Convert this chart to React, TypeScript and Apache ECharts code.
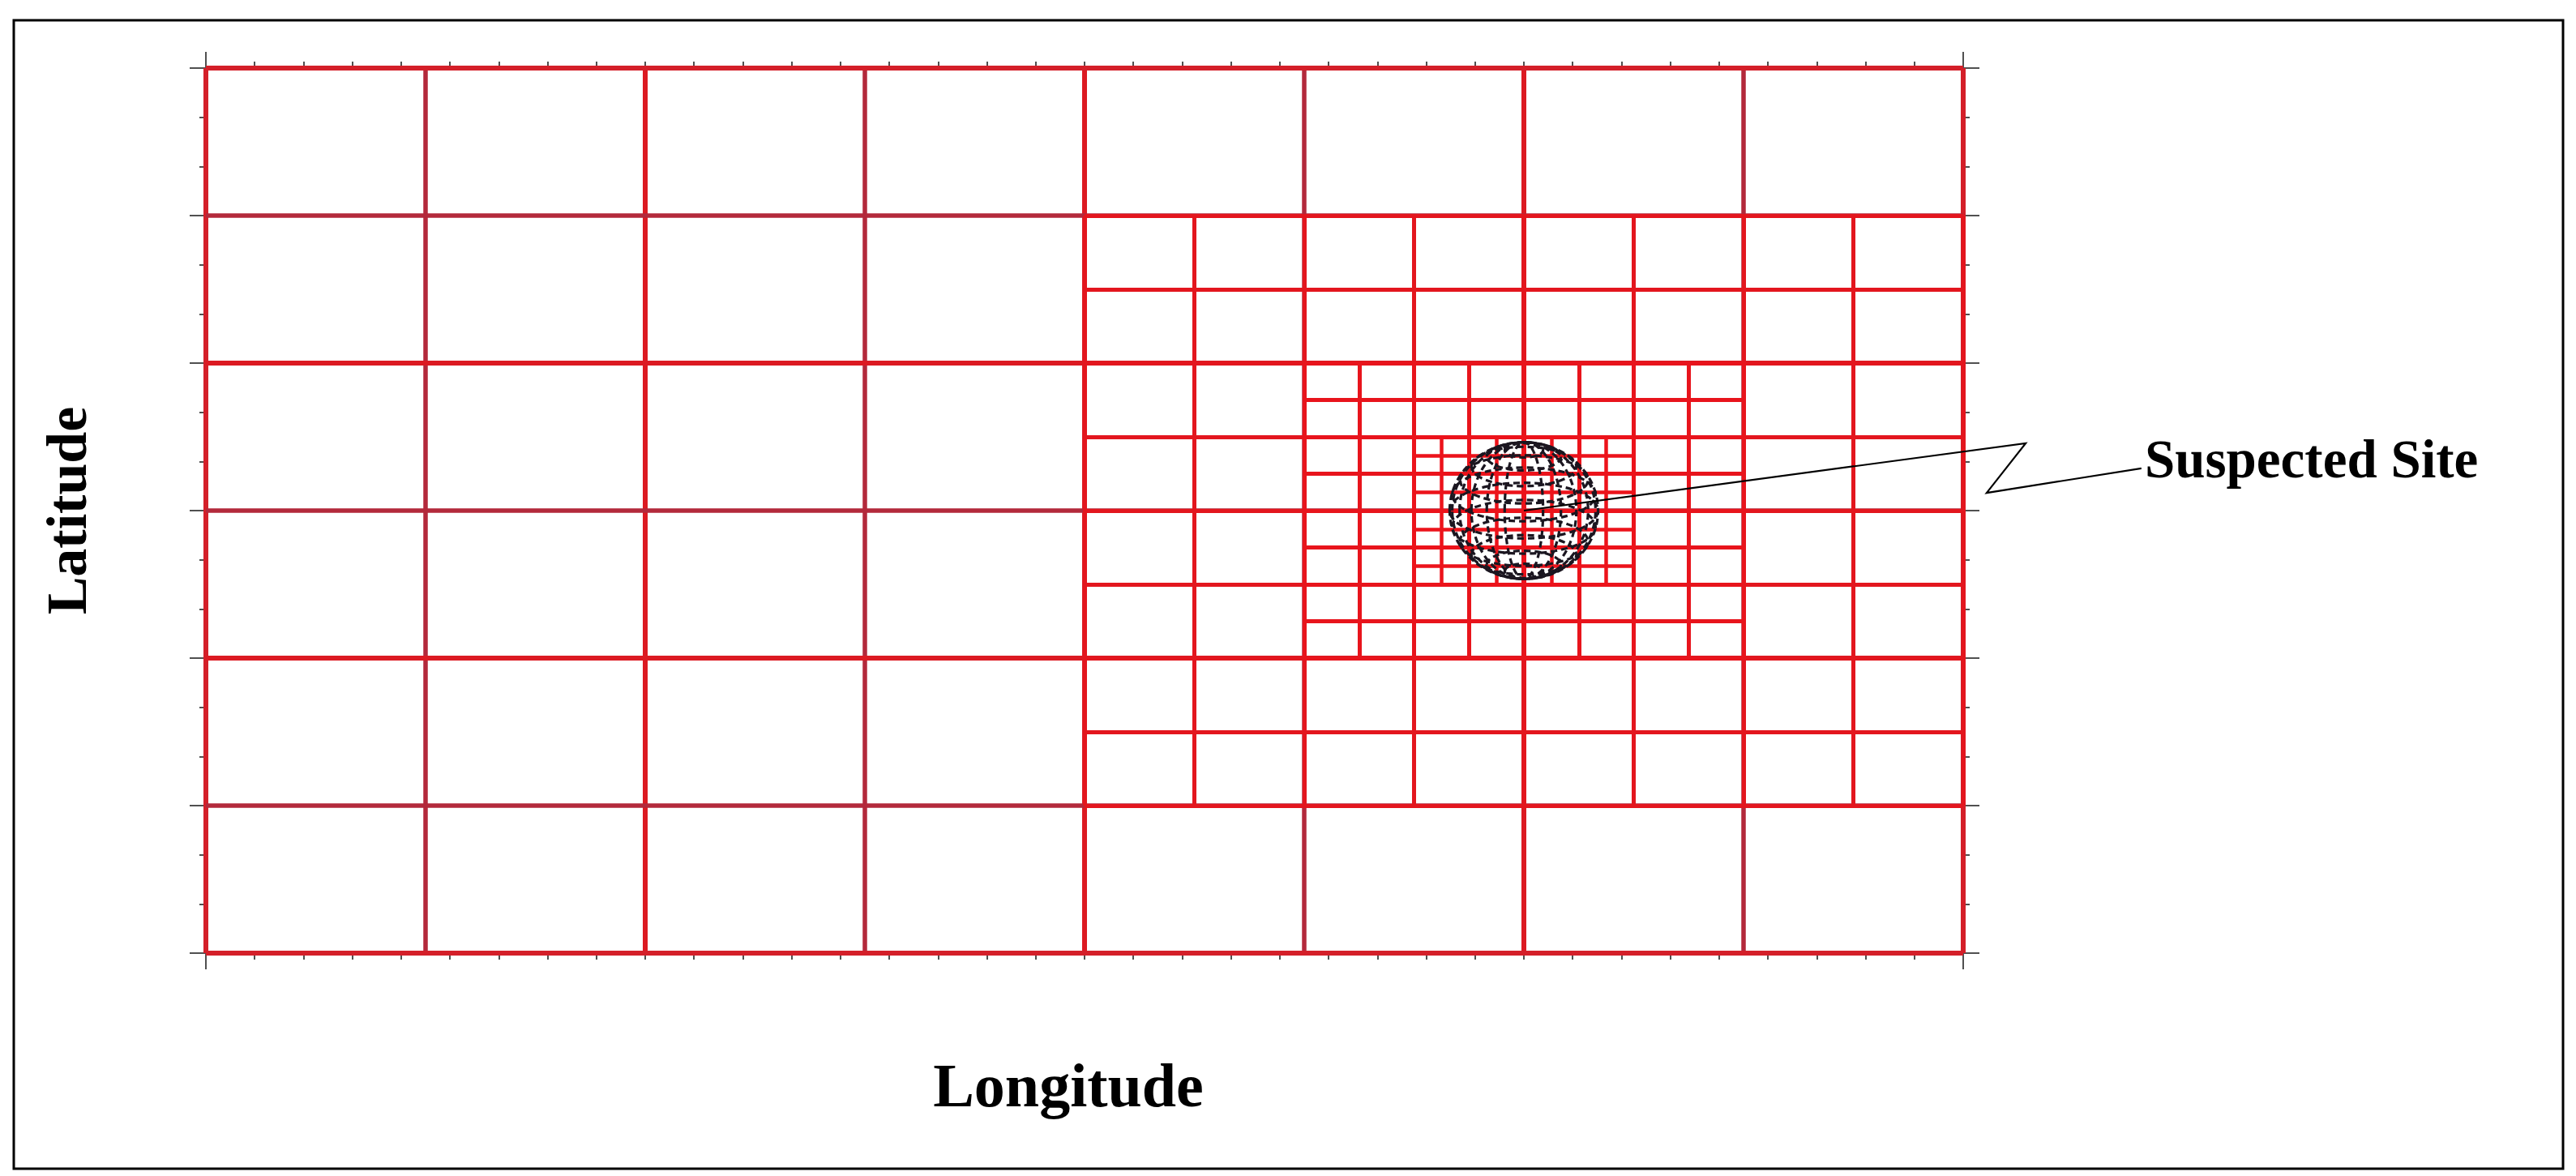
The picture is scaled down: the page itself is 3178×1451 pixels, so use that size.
import React, { useEffect, useRef } from "react";
import * as echarts from "echarts";

// Nested refinement levels of the grid (degrees)
const level1Lons = [-180, -135, -90, -45, 0, 45, 90, 135, 180];
const level1Lats = [-90, -60, -30, 0, 30, 60, 90];
const level2Lons = [0, 22.5, 45, 67.5, 90, 112.5, 135, 157.5, 180];
const level2Lats = [-60, -45, -30, -15, 0, 15, 30, 45, 60];
const level3Lons = [45, 56.25, 67.5, 78.75, 90, 101.25, 112.5, 123.75, 135];
const level3Lats = [-30, -22.5, -15, -7.5, 0, 7.5, 15, 22.5, 30];
const level4Lons = [67.5, 73.125, 78.75, 84.375, 90, 95.625, 101.25, 106.875, 112.5];
const level4Lats = [-15, -11.25, -7.5, -3.75, 0, 3.75, 7.5, 11.25, 15];

// Suspected site and its wireframe globe
const siteLon = 90;
const siteLat = 0;
const globeRadiusDeg = [15.2, 13.9];
const meridianAngles = [90, 75, 60, 45, 30, 15];
const parallelAngles = [-75, -60, -45, -30, -15, 0, 15, 30, 45, 60, 75];

// Leader line from site to label (degrees, extends beyond plot)
const pointerLons = [90, 192.8, 184.8, 216.5];
const pointerLats = [0, 13.7, 3.6, 8.6];

const siteLabel = "Suspected Site";
const xTitle = "Longitude";
const yTitle = "Latitude";

function segments(lons: number[], lats: number[], styleOf?: (isLon: boolean, i: number) => any) {
  const out: any[] = [];
  lons.forEach((x, i) => {
    const item: any = { coords: [[x, lats[0]], [x, lats[lats.length - 1]]] };
    if (styleOf) item.lineStyle = styleOf(true, i);
    out.push(item);
  });
  lats.forEach((y, i) => {
    const item: any = { coords: [[lons[0], y], [lons[lons.length - 1], y]] };
    if (styleOf) item.lineStyle = styleOf(false, i);
    out.push(item);
  });
  return out;
}

export default function App() {
  const ref = useRef<HTMLDivElement>(null);
  useEffect(() => {
    if (!ref.current) return;
    const chart = echarts.init(ref.current, null, { renderer: "svg" });
    const tickStyle = { color: "#505050", width: 2 };
    const xAxisBase = {
      type: "value",
      min: -180,
      max: 180,
      interval: 360,
      axisLine: { show: false, onZero: false },
      axisLabel: { show: false },
      splitLine: { show: false },
      axisTick: { show: true, length: 20, lineStyle: tickStyle },
      minorTick: { show: true, splitNumber: 36, length: 8, lineStyle: tickStyle },
    };
    const yAxisBase = {
      type: "value",
      min: -90,
      max: 90,
      interval: 30,
      axisLine: { show: false, onZero: false },
      axisLabel: { show: false },
      splitLine: { show: false },
      axisTick: { show: true, length: 20, lineStyle: tickStyle },
      minorTick: { show: true, splitNumber: 3, length: 8, lineStyle: tickStyle },
    };
    const lineSeries = (data: any[], color: string, width: number, z: number) => ({
      type: "lines",
      coordinateSystem: "cartesian2d",
      xAxisIndex: 0,
      yAxisIndex: 0,
      silent: true,
      z,
      data,
      lineStyle: { color, width, opacity: 1, curveness: 0 },
    });
    const level1Style = (isLon: boolean, i: number) => {
      const n = isLon ? level1Lons.length : level1Lats.length;
      const edge = i === 0 || i === n - 1;
      const odd = i % 2 === 1;
      return {
        color: edge ? "#d41f29" : odd ? "#b3293b" : "#dc1a22",
        width: odd ? 5.5 : 6,
        opacity: 1,
      };
    };
    const option: any = {
      animation: false,
      backgroundColor: "#ffffff",
      grid: { left: 254, top: 84, width: 2168, height: 1092, containLabel: false },
      xAxis: [
        { ...xAxisBase, position: "bottom" },
        { ...xAxisBase, position: "top" },
      ],
      yAxis: [
        { ...yAxisBase, position: "left" },
        { ...yAxisBase, position: "right" },
      ],
      series: [
        lineSeries(segments(level1Lons, level1Lats, level1Style), "#d4212b", 6, 2),
        lineSeries(segments(level2Lons, level2Lats), "#e3161e", 5, 3),
        lineSeries(segments(level3Lons, level3Lats), "#e8141c", 5, 4),
        lineSeries(segments(level4Lons, level4Lats), "#ec131b", 4.5, 5),
        {
          type: "custom",
          coordinateSystem: "cartesian2d",
          clip: false,
          silent: true,
          z: 10,
          data: [[siteLon, siteLat]],
          renderItem: (params: any, api: any) => {
            const c = api.coord([api.value(0), api.value(1)]);
            const s = api.size([globeRadiusDeg[0], globeRadiusDeg[1]]);
            const rx = s[0];
            const ry = s[1];
            const tilt = (24 * Math.PI) / 180;
            const style = { fill: "transparent", stroke: "#1b1620", lineWidth: 3.2, lineDash: [8, 5] };
            const children: any[] = [];
            meridianAngles.forEach((a) => {
              children.push({
                type: "ellipse",
                shape: { cx: c[0], cy: c[1], rx: rx * Math.sin((a * Math.PI) / 180), ry },
                style,
              });
            });
            parallelAngles.forEach((p) => {
              const r = (p * Math.PI) / 180;
              children.push({
                type: "ellipse",
                shape: {
                  cx: c[0],
                  cy: c[1] - ry * Math.sin(r) * Math.cos(tilt),
                  rx: rx * Math.cos(r),
                  ry: ry * Math.cos(r) * Math.sin(tilt),
                },
                style,
              });
            });
            return { type: "group", children };
          },
        },
        {
          type: "custom",
          coordinateSystem: "cartesian2d",
          clip: false,
          silent: true,
          z: 11,
          data: [[siteLon, siteLat]],
          renderItem: (params: any, api: any) => {
            const points = pointerLons.map((lon, i) => api.coord([lon, pointerLats[i]]));
            return {
              type: "polyline",
              shape: { points },
              style: { fill: null, stroke: "#000000", lineWidth: 2.2 },
            };
          },
        },
      ],
      graphic: [
        {
          type: "rect",
          z: -10,
          shape: { x: 17, y: 25, width: 3145, height: 1417 },
          style: { fill: "transparent", stroke: "#000000", lineWidth: 3 },
        },
        {
          type: "text",
          x: 1318,
          y: 1339,
          style: {
            text: xTitle,
            font: 'bold 76px "Liberation Serif"',
            fill: "#000000",
            align: "center",
            verticalAlign: "middle",
          },
        },
        {
          type: "text",
          x: 82,
          y: 630,
          rotation: Math.PI / 2,
          style: {
            text: yTitle,
            font: 'bold 70px "Liberation Serif"',
            fill: "#000000",
            align: "center",
            verticalAlign: "middle",
          },
        },
        {
          type: "text",
          x: 2646,
          y: 566,
          style: {
            text: siteLabel,
            font: 'bold 67px "Liberation Serif"',
            fill: "#000000",
            align: "left",
            verticalAlign: "middle",
          },
        },
      ],
    };
    chart.setOption(option);
    return () => chart.dispose();
  }, []);
  return (
    <div
      ref={ref}
      style={{ position: "fixed", left: 0, top: 0, width: 3178, height: 1451, background: "#ffffff" }}
    />
  );
}
